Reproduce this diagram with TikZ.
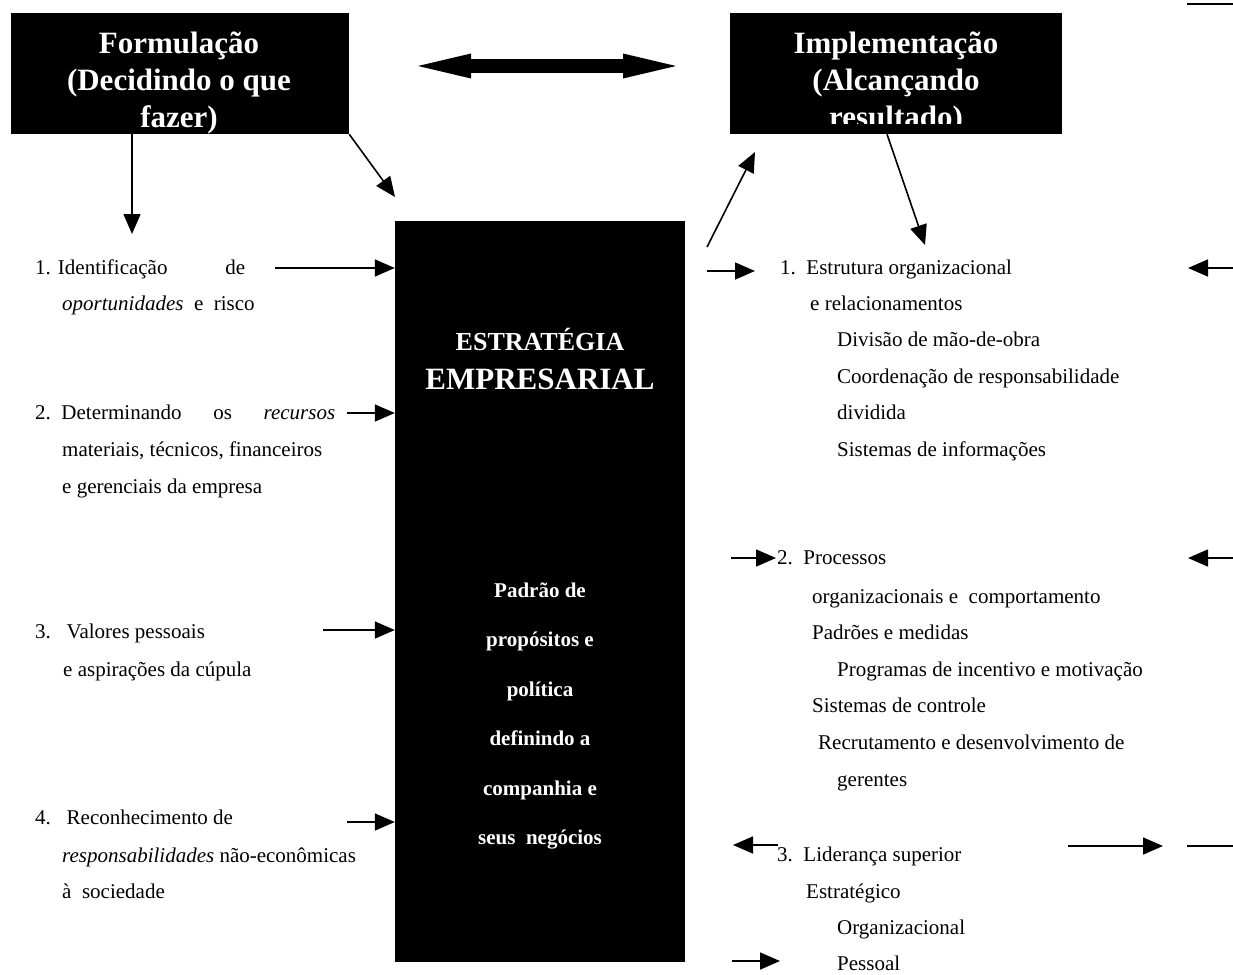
\documentclass[tikz,border=0pt]{standalone}
\usepackage{fontspec}
\setmainfont{Liberation Serif}
\usetikzlibrary{arrows.meta}
\begin{document}
\begin{tikzpicture}[x=1pt,y=-1pt,
  txt/.style={anchor=base west, inner sep=0pt, font=\fontsize{21}{25}\selectfont},
  head/.style={anchor=base, inner sep=0pt, text=white, font=\fontsize{31}{36}\selectfont\bfseries},
  inner/.style={anchor=base, inner sep=0pt, text=white, font=\fontsize{21}{24}\selectfont\bfseries},
  blackbox/.style={fill=black, draw=none, inner sep=0pt},
  arr/.style={line width=1.6pt, -{Triangle[length=20pt,width=17pt]}},
  bar/.style={line width=1.6pt}]
\useasboundingbox (0,0) rectangle (1233,974);

% black boxes
\node[blackbox, minimum width=338pt, minimum height=121pt] (form) at (180,73.5) {};
\node[blackbox, minimum width=332pt, minimum height=121pt] (impl) at (896,73.5) {};
\node[blackbox, minimum width=290pt, minimum height=741pt] (estr) at (540,591.5) {};

% headings
\node[head] (f1) at (179,54) {Formulação};
\node[head] (f2) at (179,90.5) {(Decidindo o que};
\node[head] (f3) at (179,127) {fazer)};
\node[head] (i1) at (896,54) {Implementação};
\node[head] (i2) at (896,90.5) {(Alcançando};
\begin{scope}
  \clip (730,13) rectangle (1062,123);
  \node[head] (i3) at (896,127) {resultado)};
\end{scope}

% central box text
\node[anchor=base, inner sep=0pt, text=white, font=\fontsize{26}{30}\selectfont\bfseries] (s1) at (540,350) {ESTRATÉGIA};
\node[anchor=base, inner sep=0pt, text=white, font=\fontsize{31}{36}\selectfont\bfseries] (s2) at (540,389) {EMPRESARIAL};
\node[inner] (p1) at (540,597) {Padrão de};
\node[inner] (p2) at (540,646) {propósitos e};
\node[inner] (p3) at (540,696) {política};
\node[inner] (p4) at (540,745) {definindo a};
\node[inner] (p5) at (540,795) {companhia e};
\node[inner] (p6) at (540,844) {seus\ \ negócios};

% double arrow between the two headings
\coordinate (dl) at (418,66);
\coordinate (dr) at (676,66);
\draw[line width=14pt, {Triangle[length=53pt,width=25pt,line width=0pt]}-{Triangle[length=53pt,width=25pt,line width=0pt]}] (dl) -- (dr);

% left column (first lines spread to the line width)
\node[txt] (l1a) at (35,274) {\makebox[210pt][l]{1. Identificação\hfill de}};
\node[txt] (l1b) at (62,310) {\textit{oportunidades}\ \ e\ \ risco};
\node[txt] (l2a) at (35,419) {\makebox[300pt][l]{2.\ \ Determinando\hfill os\hfill \textit{recursos}}};
\node[txt] (l2b) at (62,456) {materiais, técnicos, financeiros};
\node[txt] (l2c) at (62,493) {e gerenciais da empresa};
\node[txt] (l3a) at (35,638) {3.\ \ \ Valores pessoais};
\node[txt] (l3b) at (63,676) {e aspirações da cúpula};
\node[txt] (l4a) at (35,824) {4.\ \ \ Reconhecimento de};
\node[txt] (l4b) at (62,862) {\textit{responsabilidades} não-econômicas};
\node[txt] (l4c) at (62,898) {à\ \ sociedade};

% right column
\node[txt] (r1a) at (780,274) {1.\ \ Estrutura organizacional};
\node[txt] (r1b) at (810,310) {e relacionamentos};
\node[txt] (r1c) at (837,346) {Divisão de mão-de-obra};
\node[txt] (r1d) at (837,383) {Coordenação de responsabilidade};
\node[txt] (r1e) at (837,419) {dividida};
\node[txt] (r1f) at (837,456) {Sistemas de informações};
\node[txt] (r2a) at (777,564) {2.\ \ Processos};
\node[txt] (r2b) at (812,603) {organizacionais e\ \ comportamento};
\node[txt] (r2c) at (812,639) {Padrões e medidas};
\node[txt] (r2d) at (837,676) {Programas de incentivo e motivação};
\node[txt] (r2e) at (812,712) {Sistemas de controle};
\node[txt] (r2f) at (818,749) {Recrutamento e desenvolvimento de};
\node[txt] (r2g) at (837,786) {gerentes};
\node[txt] (r3a) at (777,861) {3.\ \ Liderança superior};
\node[txt] (r3b) at (806,898) {Estratégico};
\node[txt] (r3c) at (837,934) {Organizacional};
\node[txt] (r3d) at (837,970) {Pessoal};

% connectors from the heading boxes
\coordinate (fdown) at (132,234);
\draw[arr] (fdown |- form.south) -- (fdown);
\coordinate (fdiag) at (395,197);
\draw[arr] (form.south east) -- (fdiag);
\coordinate (eup) at (707,247);
\coordinate (eupt) at (755,152);
\draw[arr] (eup) -- (eupt);
\coordinate (idown) at (925,245);
\draw[arr] ([xshift=-9pt]impl.south) -- (idown);

% inputs into the strategy box
\coordinate (a1) at (275,268);
\coordinate (a2) at (347,413);
\coordinate (a3) at (323,630);
\coordinate (a4) at (347,822);
\foreach \c in {a1,a2,a3,a4} \draw[arr] (\c) -- (\c -| estr.west);

% arrows of the implementation column
\coordinate (q1s) at (707,271); \coordinate (q1e) at (755,271);
\coordinate (q2s) at (731,558); \coordinate (q2e) at (776,558);
\coordinate (q3s) at (778,845); \coordinate (q3e) at (733,845);
\coordinate (q4s) at (732,961); \coordinate (q4e) at (780,961);
\coordinate (e1s) at (1233,268); \coordinate (e1e) at (1188,268);
\coordinate (e2s) at (1233,558); \coordinate (e2e) at (1188,558);
\coordinate (b1s) at (1068,846); \coordinate (b1e) at (1163,846);
\draw[arr] (q1s) -- (q1e);
\draw[arr] (q2s) -- (q2e);
\draw[arr] (q3s) -- (q3e);
\draw[arr] (q4s) -- (q4e);
\draw[arr] (e1s) -- (e1e);
\draw[arr] (e2s) -- (e2e);
\draw[arr] (b1s) -- (b1e);

% edge segments
\coordinate (t1s) at (1187,4); \coordinate (t1e) at (1233,4);
\coordinate (t2s) at (1187,846); \coordinate (t2e) at (1233,846);
\draw[bar] (t1s) -- (t1e);
\draw[bar] (t2s) -- (t2e);
\end{tikzpicture}
\end{document}
